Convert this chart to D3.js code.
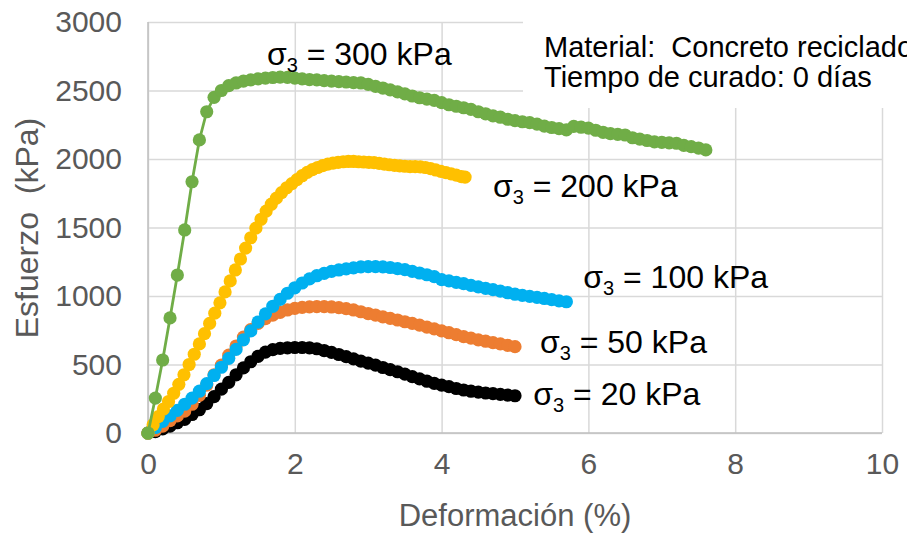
<!DOCTYPE html>
<html>
<head>
<meta charset="utf-8">
<script src="https://cdn.jsdelivr.net/npm/d3@7/dist/d3.min.js"></script>
<style>
  body { margin: 0; background: #fff; }
  svg { display: block; font-family: 'Liberation Sans', Arial, sans-serif; }
</style>
</head>
<body>
<svg id="chart" width="907" height="538"></svg>
<script>
// strain (%), 0.1 steps for most tests
const strain = [
  0, 0.1, 0.2, 0.3, 0.4, 0.5, 0.6, 0.7, 0.8, 0.9,
  1.0, 1.1, 1.2, 1.3, 1.4, 1.5, 1.6, 1.7, 1.8, 1.9,
  2.0, 2.1, 2.2, 2.3, 2.4, 2.5, 2.6, 2.7, 2.8, 2.9,
  3.0, 3.1, 3.2, 3.3, 3.4, 3.5, 3.6, 3.7, 3.8, 3.9,
  4.0, 4.1, 4.2, 4.3, 4.4, 4.5, 4.6, 4.7, 4.8, 4.9,
  5.0, 5.1, 5.2, 5.3, 5.4, 5.5, 5.6, 5.7, 5.8, 5.9,
  6.0, 6.1, 6.2, 6.3, 6.4, 6.5, 6.6, 6.7, 6.8, 6.9,
  7.0, 7.1, 7.2, 7.3, 7.4, 7.5, 7.6];

// the 200 kPa test was sampled a bit denser
const strain200 = [
  0, 0.07, 0.14, 0.21, 0.28, 0.35, 0.42, 0.49, 0.56, 0.63,
  0.70, 0.77, 0.84, 0.91, 0.98, 1.05, 1.12, 1.19, 1.26, 1.33,
  1.40, 1.47, 1.54, 1.61, 1.68, 1.75, 1.82, 1.89, 1.96, 2.03,
  2.10, 2.17, 2.24, 2.31, 2.38, 2.45, 2.52, 2.59, 2.66, 2.73,
  2.80, 2.87, 2.94, 3.01, 3.08, 3.15, 3.22, 3.29, 3.36, 3.43,
  3.50, 3.57, 3.64, 3.71, 3.78, 3.85, 3.92, 3.99, 4.06, 4.13,
  4.20, 4.27, 4.32];

// stress (kPa)
const stress20 = [
  0, 10, 30, 50, 75, 100, 135, 170, 215, 265,
  320, 370, 425, 475, 520, 560, 590, 608, 618, 622,
  624, 624, 622, 615, 602, 588, 573, 557, 541, 525,
  510, 495, 478, 462, 447, 430, 412, 395, 378, 362,
  350, 338, 325, 314, 305, 298, 292, 287, 282, 277,
  272];

const stress50 = [
  0, 20, 50, 90, 125, 160, 210, 275, 350, 425,
  495, 568, 635, 700, 755, 800, 835, 860, 880, 898,
  910, 917, 921, 922, 922, 920, 915, 908, 898, 885,
  872, 860, 848, 837, 825, 812, 800, 787, 773, 760,
  746, 732, 718, 704, 692, 680, 670, 660, 650, 640,
  630];

const stress100 = [
  0, 40, 85, 125, 165, 210, 255, 305, 360, 420,
  480, 545, 610, 680, 745, 810, 870, 925, 975, 1020,
  1060, 1095, 1125, 1148, 1165, 1180, 1190, 1198, 1205, 1212,
  1215, 1215, 1212, 1208, 1200, 1192, 1180, 1168, 1155, 1142,
  1120, 1110, 1100, 1090, 1078, 1066, 1056, 1046, 1035, 1024,
  1013, 1005, 997, 990, 982, 973, 965, 958];

const stress200 = [
  0, 60, 120, 175, 230, 290, 355, 425, 500, 575,
  650, 725, 800, 875, 950, 1030, 1110, 1190, 1270, 1350,
  1425, 1495, 1560, 1620, 1670, 1715, 1755, 1790, 1820, 1850,
  1878, 1902, 1922, 1938, 1952, 1962, 1970, 1976, 1980, 1982,
  1982, 1980, 1978, 1976, 1974, 1968, 1963, 1958, 1953, 1950,
  1947, 1945, 1944, 1942, 1938, 1930, 1920, 1910, 1900, 1892,
  1882, 1872, 1868];

const stress300 = [
  0, 255, 533, 840, 1153, 1482, 1834, 2139, 2345, 2450,
  2500, 2535, 2555, 2568, 2578, 2585, 2590, 2595, 2598, 2596,
  2590, 2585, 2580, 2577, 2572, 2568, 2565, 2562, 2558, 2555,
  2545, 2530, 2518, 2505, 2490, 2475, 2460, 2447, 2437, 2428,
  2412, 2396, 2385, 2374, 2362, 2345, 2330, 2315, 2305, 2290,
  2280, 2272, 2265, 2255, 2240, 2230, 2222, 2212, 2238, 2232,
  2225, 2210, 2195, 2185, 2180, 2175, 2155, 2145, 2135, 2125,
  2122, 2118, 2115, 2100, 2090, 2080, 2066];

const confining = ['20', '50', '100', '200', '300'];
const xTicks = [0, 2, 4, 6, 8, 10];
const yTicks = [0, 500, 1000, 1500, 2000, 2500, 3000];
const noteLines = ['Material:\u00a0 Concreto reciclado', 'Tiempo de curado: 0 días'];

const svg = d3.select('#chart');

const cs = {
  plot: { left: 148, right: 882, top: 22, bottom: 433 },
  palette: {
    20: '#000000',
    50: '#ED7D31',
    100: '#00B0F0',
    200: '#FFC000',
    300: '#70AD47',
    grid: '#d9d9d9',
    axis: '#bfbfbf',
    text: '#595959',
  },
  marker: 6.6,
  lineWidth: 2.8,
  // label anchor in data units (strain, stress)
  labels: {
    300: [1.62, 2686],
    200: [4.70, 1723],
    100: [5.93, 1058],
    50: [5.34, 584],
    20: [5.25, 204],
  },
};

const tests = {
  20: { x: strain, y: stress20 },
  50: { x: strain, y: stress50 },
  100: { x: strain, y: stress100 },
  200: { x: strain200, y: stress200 },
  300: { x: strain, y: stress300 },
};

const x = d3.scaleLinear().domain([0, 10]).range([cs.plot.left, cs.plot.right]);
const y = d3.scaleLinear().domain([0, 3000]).range([cs.plot.bottom, cs.plot.top]);

// gridlines
svg.append('g')
  .attr('transform', `translate(0, ${cs.plot.bottom})`)
  .call(d3.axisBottom(x).tickValues(xTicks).tickSize(cs.plot.top - cs.plot.bottom).tickFormat(''))
  .call(g => g.select('.domain').remove())
  .call(g => g.selectAll('line').attr('stroke', cs.palette.grid).attr('stroke-width', 1.5));

svg.append('g')
  .attr('transform', `translate(${cs.plot.left}, 0)`)
  .call(d3.axisLeft(y).tickValues(yTicks).tickSize(cs.plot.left - cs.plot.right).tickFormat(''))
  .call(g => g.select('.domain').remove())
  .call(g => g.selectAll('line').attr('stroke', cs.palette.grid).attr('stroke-width', 1.5));

// axis lines
svg.append('line')
  .attr('x1', cs.plot.left).attr('x2', cs.plot.right)
  .attr('y1', cs.plot.bottom).attr('y2', cs.plot.bottom)
  .attr('stroke', cs.palette.axis).attr('stroke-width', 1.5);
svg.append('line')
  .attr('x1', cs.plot.left).attr('x2', cs.plot.left)
  .attr('y1', cs.plot.top).attr('y2', cs.plot.bottom)
  .attr('stroke', cs.palette.axis).attr('stroke-width', 1.5);

// note box hides the grid behind it
svg.append('rect')
  .attr('x', 523).attr('y', 8).attr('width', 384).attr('height', 100)
  .attr('fill', '#fff');

svg.append('text')
  .attr('x', 544).attr('y', 57)
  .attr('font-size', 29).attr('fill', '#000')
  .selectAll('tspan').data(noteLines).join('tspan')
  .attr('x', 544).attr('dy', (d, i) => i ? 30 : 0)
  .text(d => d);

// tick labels
svg.append('g')
  .attr('transform', `translate(0, ${cs.plot.bottom})`)
  .call(d3.axisBottom(x).tickValues(xTicks).tickSize(0).tickPadding(20).tickFormat(d3.format('d')))
  .call(g => g.select('.domain').remove())
  .call(g => g.selectAll('text').attr('font-size', 30).attr('fill', cs.palette.text)
    .attr('font-family', null));

svg.append('g')
  .attr('transform', `translate(${cs.plot.left}, 0)`)
  .call(d3.axisLeft(y).tickValues(yTicks).tickSize(0).tickPadding(26).tickFormat(d3.format('d')))
  .call(g => g.select('.domain').remove())
  .call(g => g.selectAll('text').attr('font-size', 30).attr('fill', cs.palette.text)
    .attr('font-family', null));

// axis titles
svg.append('text')
  .attr('x', 515).attr('y', 526)
  .attr('text-anchor', 'middle')
  .attr('font-size', 31).attr('fill', cs.palette.text)
  .text('Deformación (%)');

svg.append('text')
  .attr('transform', 'translate(38, 228) rotate(-90)')
  .attr('text-anchor', 'middle')
  .attr('font-size', 32).attr('fill', cs.palette.text)
  .style('white-space', 'pre')
  .text('Esfuerzo  (kPa)');

// curves, lowest confining pressure underneath
const line = d3.line().x(d => x(d[0])).y(d => y(d[1]));

confining.forEach((key) => {
  const pts = tests[key].y.map((v, i) => [tests[key].x[i], v]);
  const g = svg.append('g').attr('class', `test-${key}`);
  g.append('path')
    .attr('d', line(pts))
    .attr('fill', 'none')
    .attr('stroke', cs.palette[key])
    .attr('stroke-width', cs.lineWidth);
  g.selectAll('circle').data(pts).join('circle')
    .attr('cx', d => x(d[0]))
    .attr('cy', d => y(d[1]))
    .attr('r', cs.marker)
    .attr('fill', cs.palette[key]);
});

// sigma labels
confining.forEach((key) => {
  const [lx, ly] = cs.labels[key];
  const t = svg.append('text')
    .attr('x', x(lx)).attr('y', y(ly))
    .attr('font-size', 32).attr('fill', '#000');
  t.append('tspan').text('σ');
  t.append('tspan').attr('font-size', 20).attr('dy', 7).text('3');
  t.append('tspan').attr('dy', -7).text(` = ${key} kPa`);
});
</script>
</body>
</html>
